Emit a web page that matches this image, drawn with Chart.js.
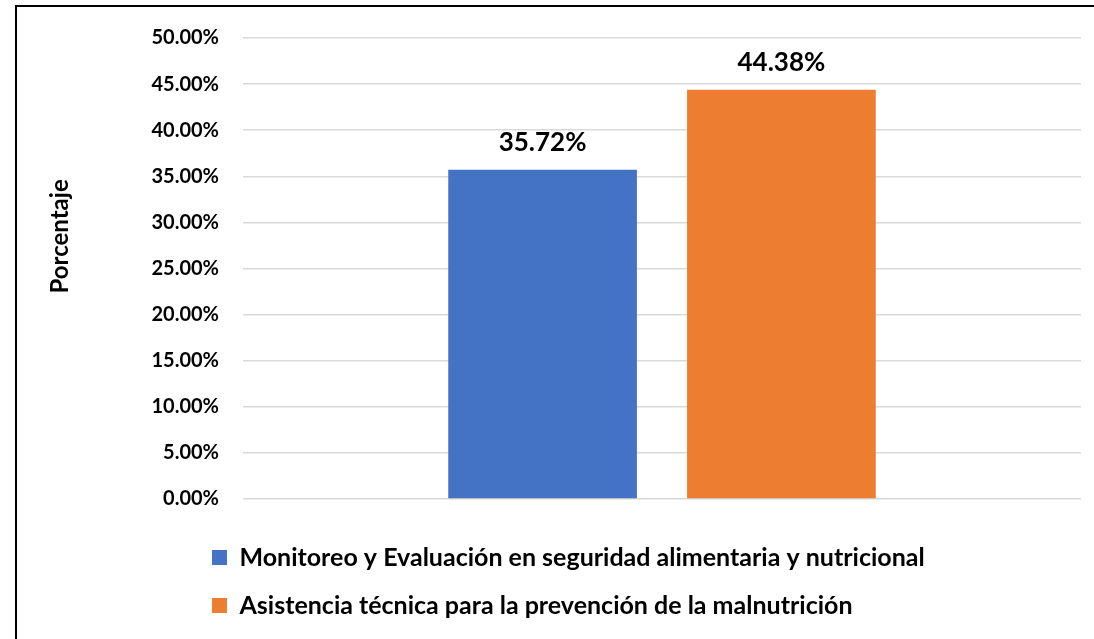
<!DOCTYPE html>
<html>
<head>
<meta charset="utf-8">
<script src="https://cdn.jsdelivr.net/npm/chart.js@4.4.0/dist/chart.umd.min.js"></script>
<style>
  html, body { margin: 0; padding: 0; background: #fff; overflow: hidden; }
  #frame { position: absolute; left: 15px; top: 5px; width: 1100px; height: 700px;
           border-top: 2px solid #000; border-left: 2px solid #000; }
  #barChart { display: block; }
</style>
</head>
<body>
<div id="frame"><canvas id="barChart" width="1077" height="621"></canvas></div>
<script>
var categories = [''];
var seriesNames = [
    'Monitoreo y Evaluación en seguridad alimentaria y nutricional',
    'Asistencia técnica para la prevención de la malnutrición'
];
var seriesValues = [[35.72], [44.38]];
var seriesColors = ['#4472C4', '#ED7D31'];
var yTicks = [0, 5, 10, 15, 20, 25, 30, 35, 40, 45, 50];

var fontFamily = 'Lato, "Open Sans", sans-serif';

// moves the legend block so both rows start at the same x, like the original
var legendShift = {
    id: 'legendShift',
    afterLayout: function (chart) {
        var lg = chart.legend;
        var w = lg.right - lg.left;
        lg.left = 172;
        lg.right = lg.left + w;
    }
};

var valueLabels = {
    id: 'valueLabels',
    afterDatasetsDraw: function (chart) {
        var ctx = chart.ctx;
        ctx.save();
        ctx.font = 'bold 26px ' + fontFamily;
        ctx.fillStyle = '#000';
        ctx.textAlign = 'center';
        ctx.textBaseline = 'alphabetic';
        chart.data.datasets.forEach(function (ds, i) {
            chart.getDatasetMeta(i).data.forEach(function (bar, j) {
                ctx.fillText(ds.data[j].toFixed(2) + '%', bar.x, bar.y - 19);
            });
        });
        ctx.restore();
    }
};

var ctx = document.getElementById('barChart').getContext('2d');
var barChart = new Chart(ctx, {
    type: 'bar',
    data: {
        labels: categories,
        datasets: seriesNames.map(function (name, i) {
            return {
                label: name,
                data: seriesValues[i],
                backgroundColor: seriesColors[i],
                categoryPercentage: 0.57,
                barPercentage: 0.79
            };
        })
    },
    options: {
        responsive: false,
        animation: false,
        layout: { padding: { top: 31, right: 13, left: 0, bottom: 0 } },
        plugins: {
            tooltip: { enabled: false },
            legend: {
                position: 'bottom',
                align: 'start',
                labels: {
                    boxWidth: 15,
                    boxHeight: 15,
                    padding: 23,
                    color: '#000',
                    font: { family: fontFamily, size: 25, weight: 'bold' }
                }
            }
        },
        scales: {
            x: {
                grid: { display: false, drawTicks: false },
                border: { display: false },
                ticks: { display: false },
                afterFit: function (scale) { scale.height = 23; }
            },
            y: {
                min: 0,
                max: 50,
                afterBuildTicks: function (scale) {
                    scale.ticks = yTicks.map(function (v) { return { value: v }; });
                },
                grid: {
                    color: '#D9D9D9',
                    lineWidth: 1.5,
                    drawTicks: true,
                    tickLength: 24,
                    tickColor: 'rgba(0,0,0,0)'
                },
                border: { display: false },
                ticks: {
                    padding: 0,
                    color: '#000',
                    font: { family: fontFamily, size: 20, weight: 'bold' },
                    callback: function (v) { return v.toFixed(2) + '%'; }
                },
                title: {
                    display: true,
                    text: '           Porcentaje',
                    color: '#000',
                    padding: { top: 29, bottom: 0 },
                    font: { family: fontFamily, size: 24, weight: 'bold' }
                },
                afterFit: function (scale) { scale.width = 226; }
            }
        }
    },
    plugins: [legendShift, valueLabels]
});
</script>
</body>
</html>
